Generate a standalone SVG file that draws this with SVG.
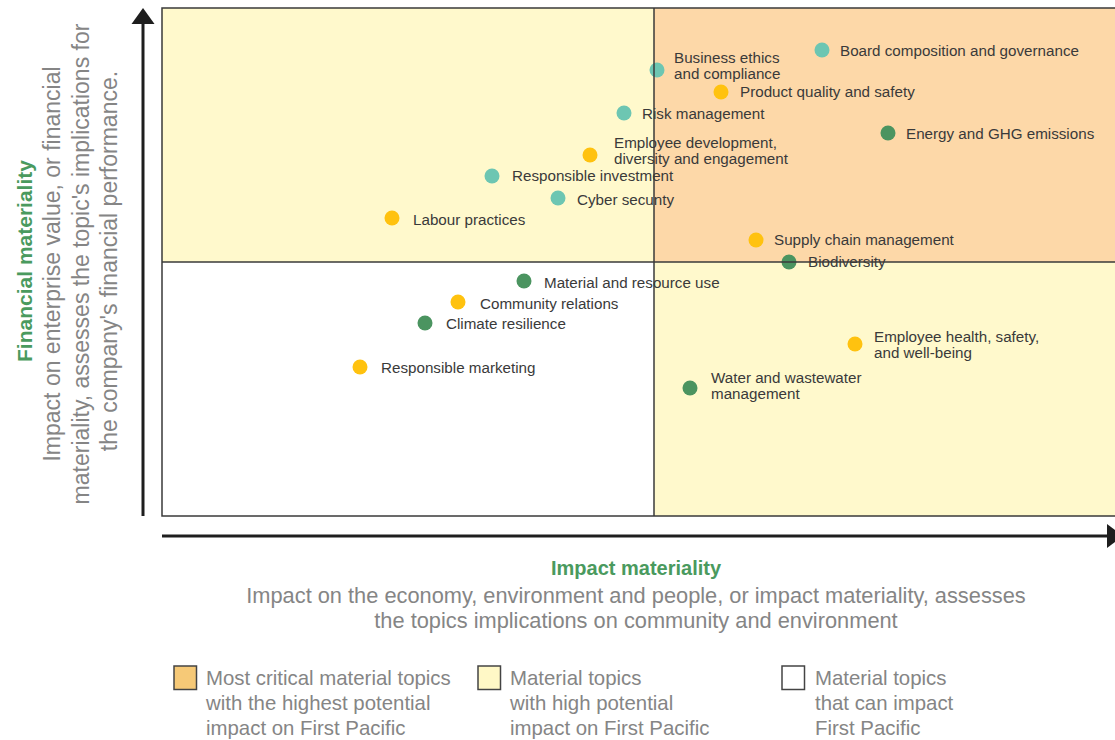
<svg xmlns="http://www.w3.org/2000/svg" width="1115" height="740" viewBox="0 0 1115 740">
<style>
.lbl{font-family:"Liberation Sans",Arial,sans-serif;font-size:15.2px;fill:#3a3a3a}
.gray{font-family:"Liberation Sans",Arial,sans-serif;fill:#858585}
.title{font-family:"Liberation Sans",Arial,sans-serif;font-weight:bold;fill:#4a9a5e}
.teal{fill:#6dc6b2}
.gold{fill:#ffc20f}
.green{fill:#4b9460}
.grid{stroke:#3a3a3a;stroke-width:1.5;fill:none}
.axis{stroke:#1e1e1e;stroke-width:3}
.key{stroke:#444;stroke-width:1.5}
</style>
<rect width="1115" height="740" fill="#ffffff"/>
<g id="quadrants">
<rect x="162" y="8" width="492" height="254" fill="#fff9cc"/>
<rect x="654" y="8" width="466" height="254" fill="#fdd8a8"/>
<rect x="162" y="262" width="492" height="254" fill="#ffffff"/>
<rect x="654" y="262" width="466" height="254" fill="#fff9cc"/>
</g>
<g id="nodes">
<g id="n-board"><circle class="teal" cx="822" cy="50" r="7.5"/><text class="lbl" x="840" y="56">Board composition and governance</text></g>
<g id="n-ethics"><circle class="teal" cx="657" cy="70" r="7.5"/><text class="lbl" x="674" y="63">Business ethics<tspan x="674" dy="16">and compliance</tspan></text></g>
<g id="n-product"><circle class="gold" cx="721" cy="92" r="7.5"/><text class="lbl" x="740" y="97">Product quality and safety</text></g>
<g id="n-risk"><circle class="teal" cx="624" cy="113" r="7.5"/><text class="lbl" x="642" y="119">Risk management</text></g>
<g id="n-energy"><circle class="green" cx="888" cy="133" r="7.5"/><text class="lbl" x="906" y="139">Energy and GHG emissions</text></g>
<g id="n-empdev"><circle class="gold" cx="590" cy="155" r="7.5"/><text class="lbl" x="614" y="148">Employee development,<tspan x="614" dy="16">diversity and engagement</tspan></text></g>
<g id="n-respinv"><circle class="teal" cx="492" cy="176" r="7.5"/><text class="lbl" x="512" y="181">Responsible investment</text></g>
<g id="n-cyber"><circle class="teal" cx="558" cy="198" r="7.5"/><text class="lbl" x="577" y="205">Cyber secunty</text></g>
<g id="n-labour"><circle class="gold" cx="392" cy="218" r="7.5"/><text class="lbl" x="413" y="225">Labour practices</text></g>
<g id="n-supply"><circle class="gold" cx="756" cy="240" r="7.5"/><text class="lbl" x="774" y="245">Supply chain management</text></g>
<g id="n-bio"><circle class="green" cx="789" cy="262" r="7.5"/><text class="lbl" x="808" y="267">Biodiversity</text></g>
<g id="n-material"><circle class="green" cx="524" cy="281" r="7.5"/><text class="lbl" x="544" y="288">Material and resource use</text></g>
<g id="n-community"><circle class="gold" cx="458" cy="302" r="7.5"/><text class="lbl" x="480" y="309">Community relations</text></g>
<g id="n-climate"><circle class="green" cx="425" cy="323" r="7.5"/><text class="lbl" x="446" y="329">Climate resilience</text></g>
<g id="n-marketing"><circle class="gold" cx="360" cy="367" r="7.5"/><text class="lbl" x="381" y="373">Responsible marketing</text></g>
<g id="n-health"><circle class="gold" cx="855" cy="344" r="7.5"/><text class="lbl" x="874" y="342">Employee health, safety,<tspan x="874" dy="16">and well-being</tspan></text></g>
<g id="n-water"><circle class="green" cx="690" cy="388" r="7.5"/><text class="lbl" x="711" y="383">Water and wastewater<tspan x="711" dy="16">management</tspan></text></g>
</g>
<g id="connectors">
<rect class="grid" x="162" y="8" width="960" height="508"/>
<line class="grid" x1="654" y1="8" x2="654" y2="516"/>
<line class="grid" x1="162" y1="262" x2="1120" y2="262"/>
<line class="axis" x1="143" y1="516" x2="143" y2="22"/>
<polygon points="143,8 131.5,24 154.5,24" fill="#1e1e1e"/>
<line class="axis" x1="162" y1="536" x2="1110" y2="536"/>
<polygon points="1107,524 1107,548 1123,536" fill="#1e1e1e"/>
</g>
<g id="y-axis-label">
<text class="title" font-size="21" text-anchor="middle" transform="translate(32,261) rotate(-90)">Financial materiality</text>
<text class="gray" font-size="23" text-anchor="middle" transform="translate(60,264) rotate(-90)">Impact on enterprise value, or financial</text>
<text class="gray" font-size="23" text-anchor="middle" transform="translate(89,264) rotate(-90)">materiality, assesses the topic's implications for</text>
<text class="gray" font-size="23" text-anchor="middle" transform="translate(117,261) rotate(-90)">the company's financial performance.</text>
</g>
<g id="x-axis-label">
<text class="title" font-size="20" text-anchor="middle" x="636" y="575">Impact materiality</text>
<text class="gray" font-size="21.8" text-anchor="middle" x="636" y="603">Impact on the economy, environment and people, or impact materiality, assesses</text>
<text class="gray" font-size="21.8" text-anchor="middle" x="636" y="628">the topics implications on community and environment</text>
</g>
<g id="legend">
<g id="key-critical"><rect class="key" x="174" y="666" width="22.5" height="23.5" fill="#f6c977"/><text class="gray" font-size="20.4" x="206" y="685">Most critical material topics<tspan x="206" dy="25">with the highest potential</tspan><tspan x="206" dy="25">impact on First Pacific</tspan></text></g>
<g id="key-high"><rect class="key" x="478" y="666" width="22.5" height="23.5" fill="#fff8c6"/><text class="gray" font-size="20.4" x="510" y="685">Material topics<tspan x="510" dy="25">with high potential</tspan><tspan x="510" dy="25">impact on First Pacific</tspan></text></g>
<g id="key-can"><rect class="key" x="782" y="666" width="22.5" height="23.5" fill="#ffffff"/><text class="gray" font-size="20.4" x="815" y="685">Material topics<tspan x="815" dy="25">that can impact</tspan><tspan x="815" dy="25">First Pacific</tspan></text></g>
</g>
</svg>
